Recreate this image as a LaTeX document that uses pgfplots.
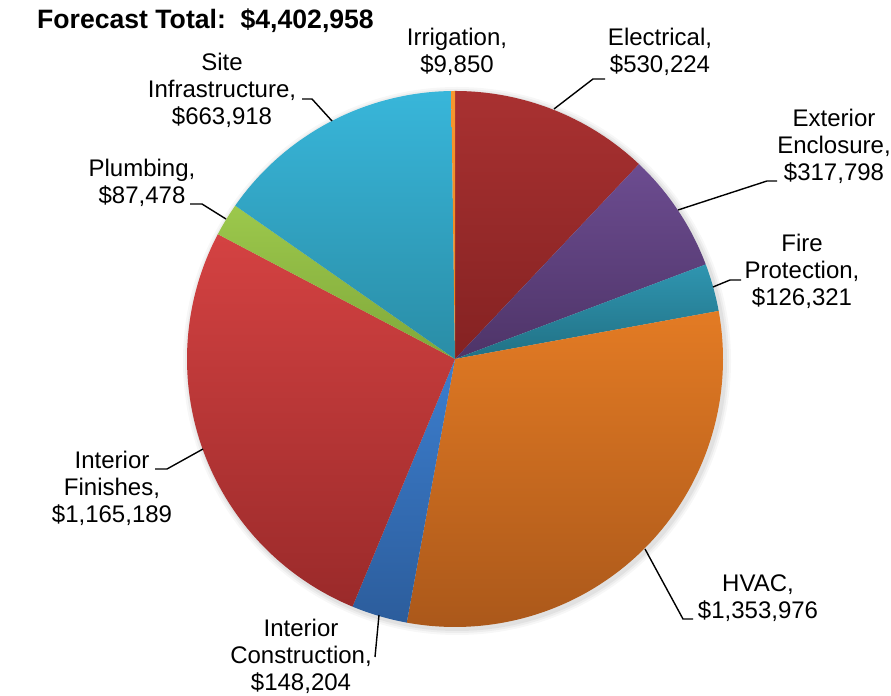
\documentclass[border=0pt]{standalone}
\usepackage{pgfplots}
\pgfplotsset{compat=1.18}
\usepackage{pgfplotstable}
\usepackage{fontspec}
\setmainfont{Liberation Sans}

\pgfplotstableread[col sep=comma]{
name,value
Electrical,530224
Exterior Enclosure,317798
Fire Protection,126321
HVAC,1353976
Interior Construction,148204
Interior Finishes,1165189
Plumbing,87478
Site Infrastructure,663918
Irrigation,9850
}\pietable

% top / bottom gradient colours of each slice
\definecolor{t0}{HTML}{A93131}\definecolor{b0}{HTML}{842222}
\definecolor{t1}{HTML}{6C4C90}\definecolor{b1}{HTML}{4E3468}
\definecolor{t2}{HTML}{2F95B0}\definecolor{b2}{HTML}{217185}
\definecolor{t3}{HTML}{E37B24}\definecolor{b3}{HTML}{A9571A}
\definecolor{t4}{HTML}{3C7ECE}\definecolor{b4}{HTML}{2C5D9C}
\definecolor{t5}{HTML}{D44242}\definecolor{b5}{HTML}{9A2A2A}
\definecolor{t6}{HTML}{9CC84C}\definecolor{b6}{HTML}{80A83A}
\definecolor{t7}{HTML}{38B6DA}\definecolor{b7}{HTML}{2A8DA6}
\definecolor{t8}{HTML}{F7962F}\definecolor{b8}{HTML}{E8861F}

\begin{document}
\begin{tikzpicture}
\begin{axis}[
  hide axis, scale only axis,
  width=891bp, height=696bp,
  xmin=0, xmax=891, ymin=0, ymax=696,
  clip=false,
]
\path (axis cs:0,0) rectangle (axis cs:891,696);
% soft shadow
\foreach \k/\o in {6/0.03,4/0.04,2/0.05}{
  \edef\cmd{\noexpand\fill[black,opacity=\o] (axis cs:457,335) circle[radius=268bp+\k bp];}\cmd
}
% total
\def\total{0}
\pgfplotsforeachungrouped \i in {0,...,8}{%
  \pgfplotstablegetelem{\i}{value}\of\pietable
  \edef\total{\fpeval{\total+\pgfplotsretval}}%
}
\def\cum{0}
\pgfplotsforeachungrouped \i in {0,...,8}{%
  \pgfplotstablegetelem{\i}{value}\of\pietable
  \edef\v{\pgfplotsretval}%
  \edef\aS{\fpeval{90-360*\cum/\total}}%
  \edef\aE{\fpeval{90-360*(\cum+\v)/\total}}%
  \edef\cum{\fpeval{\cum+\v}}%
  \edef\cmd{\noexpand\shade[top color=t\i, bottom color=b\i] (axis cs:455,337) -- ++(\aS:268bp) arc[start angle=\aS, end angle=\aE, radius=268bp] -- cycle;}%
  \cmd
}
% leader lines
\begin{scope}[line width=1.4bp, black]
\draw (axis cs:554,587) -- (axis cs:593,617) -- (axis cs:605,617);
\draw (axis cs:678,486) -- (axis cs:767,515) -- (axis cs:777,515);
\draw (axis cs:713,409) -- (axis cs:730,416) -- (axis cs:741,416);
\draw (axis cs:645,147) -- (axis cs:683,77) -- (axis cs:693,77);
\draw (axis cs:379,81) -- (axis cs:375,39);
\draw (axis cs:203,247) -- (axis cs:167,227) -- (axis cs:155,227);
\draw (axis cs:226,477) -- (axis cs:202,492) -- (axis cs:190,492);
\draw (axis cs:332,575) -- (axis cs:312,597) -- (axis cs:302,597);
\end{scope}
% labels (anchor = baseline of the last line)
\begin{scope}[every node/.style={align=center, inner sep=0pt, anchor=base,
   font=\fontsize{24bp}{27bp}\selectfont}]
\node at (axis cs:457,623) {Irrigation,\\\$9,850};
\node at (axis cs:660,623) {Electrical,\\\$530,224};
\node at (axis cs:834,515) {Exterior\\Enclosure,\\\$317,798};
\node at (axis cs:802,390) {Fire\\Protection,\\\$126,321};
\node at (axis cs:758,77) {HVAC,\\\$1,353,976};
\node at (axis cs:301,6) {Interior\\Construction,\\\$148,204};
\node at (axis cs:112,173) {Interior\\Finishes,\\\$1,165,189};
\node at (axis cs:142,492) {Plumbing,\\\$87,478};
\node at (axis cs:222,571) {Site\\Infrastructure,\\\$663,918};
\end{scope}
\node[anchor=base west, inner sep=0pt, font=\fontsize{26.6bp}{31bp}\selectfont\bfseries]
  at (axis cs:37,667) {Forecast Total:\ \ \$4,402,958};
\end{axis}
\end{tikzpicture}
\end{document}
